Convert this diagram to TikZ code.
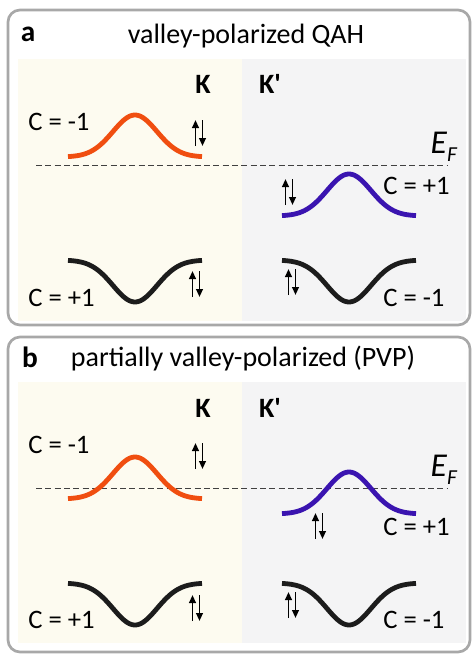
\documentclass[tikz,border=0pt]{standalone}
\usepackage{fontspec}
\setmainfont{Carlito}
\usetikzlibrary{arrows.meta,positioning}
\definecolor{bandorange}{HTML}{F04E10}
\definecolor{bandblue}{HTML}{3A14B0}
\definecolor{bandblack}{HTML}{1C1C1C}
\definecolor{valleyK}{HTML}{FDFBF0}
\definecolor{valleyKp}{HTML}{F4F4F5}
\definecolor{panelframe}{HTML}{A8A8A8}
\tikzset{
  panel/.style={draw=panelframe, line width=2pt, rounded corners=9pt},
  panellabel/.style={font=\fontsize{22}{26}\selectfont\bfseries, inner sep=0pt},
  paneltitle/.style={font=\fontsize{21}{25}\selectfont, inner sep=0pt},
  valley/.style={font=\fontsize{21}{25}\selectfont\bfseries, inner sep=0pt},
  chern/.style={font=\fontsize{20}{24}\selectfont, inner sep=0pt, anchor=west},
  fermi/.style={dashed, dash pattern=on 4.5pt off 2.5pt, line width=0.6pt, black!75},
  band/.style={line width=3.6pt},
  spinarrow/.style={line width=1.4pt, -{Triangle[length=6pt,width=5pt]}},
  spins/.pic={
    \draw[spinarrow] (-3.5,13) -- (-3.5,-13);
    \draw[spinarrow] (3.5,-13) -- (3.5,13);
  }
}
% Gaussian band: center x, baseline y, signed height, colour
\newcommand{\bandcurve}[4]{%
  \draw[band, #4] plot[domain=-67:67, samples=80, smooth]
    ({#1+\x}, {#2-(#3)*exp(-((\x/22)^2)/2)});
}
\newcommand{\fermilabel}{\textit{E}\raisebox{-0.5ex}{\fontsize{16}{18}\selectfont\textit{F}}}

\begin{document}
\begin{tikzpicture}[x=0.75pt,y=-0.75pt]
  \useasboundingbox (0,0) rectangle (472,654);

  % panel a
  \begin{scope}
    \fill[valleyK] (18,59) rectangle (242,321);
    \fill[valleyKp] (242,59) rectangle (466,321);
    \draw[panel] (8,10) rectangle (470,325);
    \node[panellabel] (la) at (28,34) {a};
    \node[paneltitle] (ta) at (246,36) {valley-polarized QAH};
    \node[valley] (Ka) at (203,84) {K};
    \node[valley] (Kpa) at (270,84) {K\textquotesingle};
    \draw[fermi] (36,165) coordinate (efa1) -- (447,165) coordinate (efa2);
    \node[font=\fontsize{25}{28}\selectfont, inner sep=0pt] (EFa) at (444,147) {\fermilabel};
    \bandcurve{135}{157}{42}{bandorange}
    \bandcurve{349}{216}{42}{bandblue}
    \bandcurve{135}{260}{-42}{bandblack}
    \bandcurve{349}{260}{-42}{bandblack}
    \node[chern] (ca1) at (28,122) {C = -1};
    \node[chern] (ca2) at (383,186) {C = +1};
    \node[chern] (ca3) at (28,298) {C = +1};
    \node[chern] (ca4) at (383,298) {C = -1};
    \pic at (199,133) {spins};
    \pic at (289,192) {spins};
    \pic at (196,284) {spins};
    \pic at (292,282) {spins};
  \end{scope}

  % panel b
  \begin{scope}[shift={(0,330)}]
    \fill[valleyK] (18,52) rectangle (242,313);
    \fill[valleyKp] (242,52) rectangle (466,313);
    \draw[panel] (8,7) rectangle (470,322);
    \node[panellabel] (lb) at (30,27) {b};
    \node[paneltitle] (tb) at (243,29) {partially valley-polarized (PVP)};
    \node[valley] (Kb) at (203,78) {K};
    \node[valley] (Kpb) at (270,78) {K\textquotesingle};
    \draw[fermi] (36,158) coordinate (efb1) -- (447,158) coordinate (efb2);
    \node[font=\fontsize{25}{28}\selectfont, inner sep=0pt] (EFb) at (444,140) {\fermilabel};
    \bandcurve{135}{169}{42}{bandorange}
    \bandcurve{349}{184}{42}{bandblue}
    \bandcurve{135}{253}{-42}{bandblack}
    \bandcurve{349}{253}{-42}{bandblack}
    \node[chern] (cb1) at (28,115) {C = -1};
    \node[chern] (cb2) at (383,197) {C = +1};
    \node[chern] (cb3) at (28,290) {C = +1};
    \node[chern] (cb4) at (383,290) {C = -1};
    \pic at (199,126) {spins};
    \pic at (319,196) {spins};
    \pic at (196,278) {spins};
    \pic at (292,275) {spins};
  \end{scope}
\end{tikzpicture}
\end{document}
